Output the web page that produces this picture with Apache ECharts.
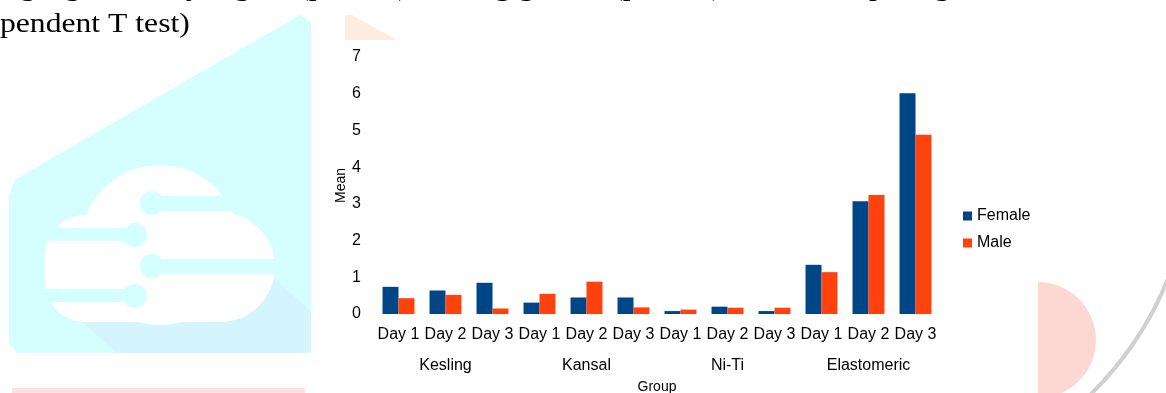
<!DOCTYPE html>
<html>
<head>
<meta charset="utf-8">
<script src="https://cdn.jsdelivr.net/npm/echarts@6/dist/echarts.min.js"></script>
<style>
  html, body { margin: 0; padding: 0; background: #fff; }
  #chart { width: 1166px; height: 393px; }
</style>
</head>
<body>
<div id="chart"></div>
<script>
// values
const days = ["Day 1", "Day 2", "Day 3", "Day 1", "Day 2", "Day 3",
              "Day 1", "Day 2", "Day 3", "Day 1", "Day 2", "Day 3"];
const groups = ["Kesling", "Kansal", "Ni-Ti", "Elastomeric"];
const female = [0.74, 0.64, 0.85, 0.31, 0.45, 0.45, 0.08, 0.20, 0.08, 1.34, 3.07, 6.01];
const male = [0.43, 0.52, 0.15, 0.55, 0.88, 0.18, 0.12, 0.17, 0.17, 1.14, 3.24, 4.88];
const yTicks = [0, 1, 2, 3, 4, 5, 6, 7];

const font = "Liberation Sans, Arial, sans-serif";
const serif = "Liberation Serif, Times New Roman, serif";
const cyan = "#d4feff";

// page decoration behind the chart (watermark + cut-off text)
const bg = [
  { type: "polygon", z: -10, silent: true,
    shape: { points: [[9, 195], [15, 180], [28, 172], [300, 15], [311, 22], [311, 345], [303, 353], [18, 353], [9, 345]] },
    style: { fill: cyan } },
  { type: "polygon", z: -9, silent: true,
    shape: { points: [[80, 320], [273, 277], [311, 312], [311, 353], [117, 353]] },
    style: { fill: "#d4f5fd" } },
  { type: "circle", z: -8, silent: true, shape: { cx: 160, cy: 245, r: 80 }, style: { fill: "#fff" } },
  { type: "circle", z: -8, silent: true, shape: { cx: 220, cy: 267, r: 55 }, style: { fill: "#fff" } },
  { type: "rect", z: -8, silent: true, shape: { x: 45, y: 215, width: 205, height: 107, r: 40 }, style: { fill: "#fff" } },
  { type: "rect", z: -7, silent: true, shape: { x: 152, y: 196, width: 130, height: 15 }, style: { fill: cyan } },
  { type: "circle", z: -7, silent: true, shape: { cx: 152, cy: 203, r: 12 }, style: { fill: cyan } },
  { type: "rect", z: -7, silent: true, shape: { x: 40, y: 228, width: 95, height: 13 }, style: { fill: cyan } },
  { type: "circle", z: -7, silent: true, shape: { cx: 135, cy: 235, r: 12 }, style: { fill: cyan } },
  { type: "rect", z: -7, silent: true, shape: { x: 152, y: 259, width: 130, height: 15 }, style: { fill: cyan } },
  { type: "circle", z: -7, silent: true, shape: { cx: 152, cy: 266, r: 12 }, style: { fill: cyan } },
  { type: "rect", z: -7, silent: true, shape: { x: 40, y: 289, width: 95, height: 13 }, style: { fill: cyan } },
  { type: "circle", z: -7, silent: true, shape: { cx: 135, cy: 296, r: 12 }, style: { fill: cyan } },
  { type: "polygon", z: -10, silent: true,
    shape: { points: [[345, 15], [352, 15], [397, 40], [345, 40]] },
    style: { fill: "#fdeddf" } },
  { type: "rect", z: -10, silent: true, shape: { x: 12, y: 388, width: 293, height: 6 }, style: { fill: "#fde2df" } },
  { type: "sector", z: -10, silent: true,
    shape: { cx: 1038, cy: 340, r: 58, r0: 0, startAngle: -Math.PI / 2, endAngle: Math.PI / 2 },
    style: { fill: "#fdd8d3" } },
  { type: "arc", z: -10, silent: true,
    shape: { cx: 850, cy: 150, r: 343, startAngle: 0.3, endAngle: 0.8 },
    style: { stroke: "#d0d0d0", lineWidth: 4, fill: null } },
  { type: "text", z: -5, silent: true, x: 0, y: 11, scaleX: 1.13,
    style: { text: "pendent T test)", font: "28px " + serif, fill: "#000" } },
  { type: "text", z: -5, silent: true, x: -40, y: -26, scaleX: 1.13,
    style: { text: "ifying significantly higher (p<0.05), among gender (p>0.05), when comparing", font: "28px " + serif, fill: "#000" } }
];

const chart = echarts.init(document.getElementById("chart"), null, { renderer: "canvas" });
chart.setOption({
  animation: false,
  textStyle: { fontFamily: font },
  graphic: bg,
  grid: { left: 375, right: 227, top: 57, bottom: 79, containLabel: false, outerBoundsMode: "none" },
  legend: {
    orient: "vertical",
    left: 963,
    top: 208,
    padding: 0,
    itemGap: 11,
    itemWidth: 9,
    itemHeight: 9,
    icon: "rect",
    textStyle: { fontSize: 16, color: "#000", fontFamily: font },
    data: ["Female", "Male"]
  },
  xAxis: [
    {
      type: "category",
      data: days,
      position: "bottom",
      axisLine: { show: false },
      axisTick: { show: false },
      axisLabel: { interval: 0, fontSize: 16, color: "#000", margin: 13 }
    },
    {
      type: "category",
      data: groups,
      position: "bottom",
      offset: 31,
      axisLine: { show: false },
      axisTick: { show: false },
      axisLabel: { interval: 0, fontSize: 16, color: "#000", margin: 13 },
      name: "Group",
      nameLocation: "middle",
      nameGap: 35,
      nameTextStyle: { fontSize: 14, color: "#000" }
    }
  ],
  yAxis: {
    type: "value",
    min: yTicks[0],
    max: yTicks[yTicks.length - 1],
    interval: 1,
    splitLine: { show: false },
    axisLine: { show: false },
    axisTick: { show: false },
    axisLabel: { fontSize: 16, color: "#000", margin: 14 },
    name: "Mean",
    nameLocation: "middle",
    nameRotate: 90,
    nameGap: 27,
    nameTextStyle: { fontSize: 14, color: "#000" }
  },
  series: [
    {
      name: "Female",
      type: "bar",
      xAxisIndex: 0,
      data: female,
      barGap: "0%",
      barCategoryGap: "32%",
      itemStyle: { color: "#004586" }
    },
    {
      name: "Male",
      type: "bar",
      xAxisIndex: 0,
      data: male,
      barGap: "0%",
      barCategoryGap: "32%",
      itemStyle: { color: "#ff420e" }
    }
  ]
});
</script>
</body>
</html>
